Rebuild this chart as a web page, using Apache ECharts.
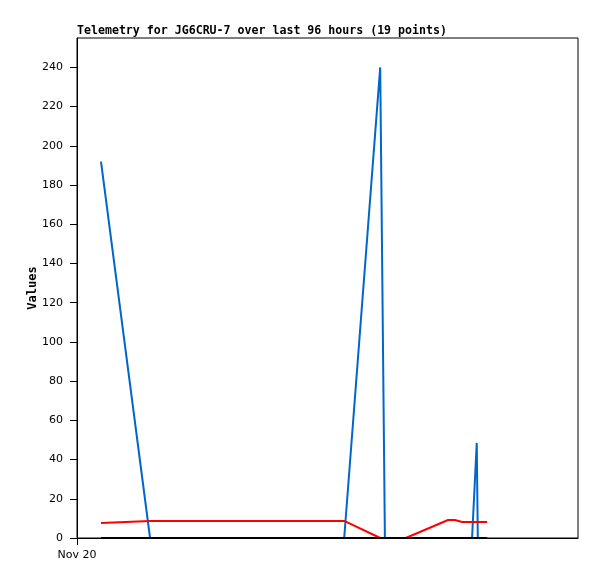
<!DOCTYPE html>
<html>
<head>
<meta charset="utf-8">
<script src="https://cdn.jsdelivr.net/npm/echarts@6/dist/echarts.min.js"></script>
<style>html,body{margin:0;padding:0;background:#fff;}#c{width:597px;height:579px;}</style>
</head>
<body>
<div id="c"></div>
<script>
// hours since Nov 20 00:00
const hours = [4.6, 14.0, 51.2, 58.1, 59.0, 63.0, 71.1, 72.4, 73.8, 75.7, 76.6, 76.8, 78.6];
const blueValues = [192, 0, 0, 240, 0, 0, 0, 0, 0, 0, 48.5, 0, 0];
const redValues = [7.7, 8.7, 8.7, 0, 0, 0, 9.2, 9.2, 8.2, 8.2, 8.2, 8.2, 8.2];
const blackValues = [0, 0, 0, 0, 0, 0, 0, 0, 0, 0, 0, 0, 0];
const yTicks = [0, 20, 40, 60, 80, 100, 120, 140, 160, 180, 200, 220, 240];
const xTicks = [0];
const xTickLabels = ['Nov 20'];
const titleText = 'Telemetry for JG6CRU-7 over last 96 hours (19 points)';

const pair = vals => hours.map((h, i) => [h, vals[i]]);
const chart = echarts.init(document.getElementById('c'), null, {renderer: 'canvas'});
chart.setOption({
  animation: false,
  backgroundColor: '#fff',
  title: {
    text: titleText, left: 77, top: 25, padding: 0,
    textStyle: {fontFamily: 'DejaVu Sans Mono', fontSize: 11.6, fontWeight: 'bold', color: '#000'}
  },
  grid: {left: 77, right: 19, top: 38, bottom: 41, show: true, borderColor: '#000', borderWidth: 1, backgroundColor: 'transparent'},
  xAxis: {
    type: 'value', min: 0, max: 96,
    axisLine: {show: true, onZero: false, lineStyle: {color: '#000', width: 1}},
    axisTick: {show: true, length: 7, customValues: xTicks, lineStyle: {color: '#000'}},
    axisLabel: {customValues: xTicks, formatter: v => xTickLabels[xTicks.indexOf(v)] || '', color: '#000',
      fontFamily: 'DejaVu Sans', fontSize: 11, margin: 12},
    splitLine: {show: false}
  },
  yAxis: {
    type: 'value', min: 0, max: 255,
    name: 'Values', nameLocation: 'middle', nameGap: 38, nameMoveOverlap: false,
    nameTextStyle: {fontFamily: 'DejaVu Sans Mono', fontSize: 12, fontWeight: 'bold', color: '#000'},
    axisLine: {show: true, lineStyle: {color: '#000', width: 1}},
    axisTick: {show: true, length: 7, customValues: yTicks, lineStyle: {color: '#000'}},
    axisLabel: {customValues: yTicks, color: '#000', fontFamily: 'DejaVu Sans', fontSize: 11, margin: 14},
    splitLine: {show: false}
  },
  series: [
    {type: 'line', data: pair(blueValues), showSymbol: false, lineStyle: {color: '#0066cc', width: 2}, z: 2},
    {type: 'line', data: pair(redValues), showSymbol: false, lineStyle: {color: '#ff0000', width: 2}, z: 3},
    {type: 'line', data: pair(blackValues), showSymbol: false, lineStyle: {color: '#000000', width: 2}, z: 4}
  ]
});
</script>
</body>
</html>
